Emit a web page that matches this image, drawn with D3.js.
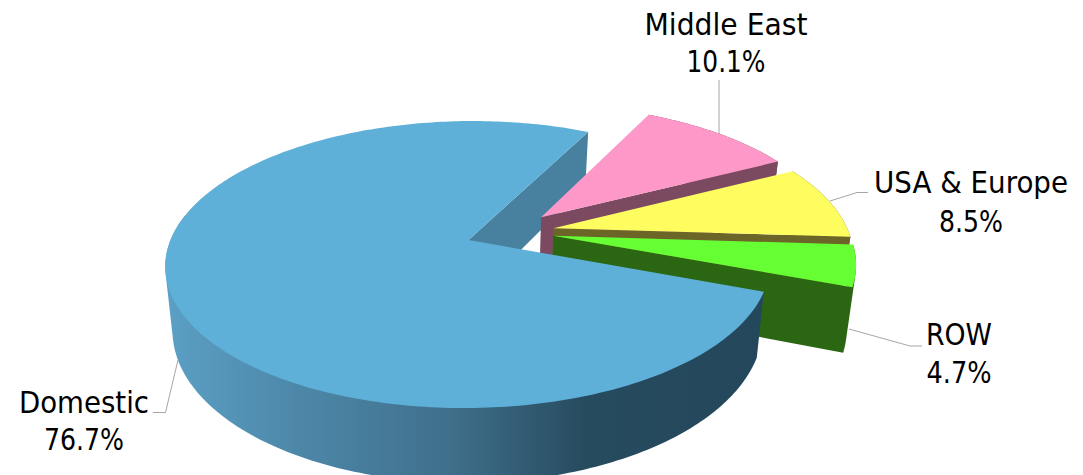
<!DOCTYPE html>
<html>
<head>
<meta charset="utf-8">
<script src="https://cdn.jsdelivr.net/npm/d3@7/dist/d3.min.js"></script>
<style>
  html, body { margin: 0; padding: 0; background: #fff; overflow: hidden; }
  text { font-family: "DejaVu Sans", sans-serif; font-size: 30px; fill: #000; }
  text.share { font-stretch: condensed; }
</style>
</head>
<body>
<svg id="chart" width="1083" height="475"></svg>
<script>
// Market shares, in drawing order round the pie
const regions = ["Middle East", "USA & Europe", "ROW", "Domestic"];
const shares = [10.1, 8.5, 4.7, 76.7];
const shareLabels = ["10.1%", "8.5%", "4.7%", "76.7%"];

const topColors = ["#fd98c9", "#fdfd60", "#66ff33", "#5eb0d8"];
const wallColors = ["#7b4a60", "#6b6528", "#2b6712", "#48809f"];

// Exploded slices are shifted in the plane of the disc (unit radius)
const sliceOffsets = [[0.248, -0.168], [0.288, -0.085], [0.2855, -0.03], [0, 0]];

// x centre, name baseline, share baseline, fitted name and share widths
const labelAnchors = [
  [726, 35, 72, 163, 79],
  [971, 193, 232, 194, 64],
  [959, 345, 383, 66, 65],
  [84, 413, 450, 130, 80]
];
const leaderPaths = [
  [[719, 80], [719, 134]],
  [[830, 201], [857, 192.5], [868, 192.5]],
  [[849, 329], [910, 346], [922, 346]],
  [[178, 360], [165.5, 412.5], [153, 412.5]]
];

// Perspective projection of the tilted disc
const cx = 468.5, cy = 240;
const radiusX = 298, radiusY = 139.3, tilt = 0.171, skew = 4.4;
const depth = 62, bottomShrink = 0.024;

function project(u, v, z) {
  const s = 1 / (1 - tilt * v);
  return [
    cx - skew * v + radiusX * u * s * (1 - z * bottomShrink),
    cy + radiusY * v * s + z * depth * s
  ];
}

const rad = Math.PI / 180;
const pie = d3.pie().sort(null).value(d => d).startAngle(26.6 * rad).endAngle(386.6 * rad);
const slices = pie(shares);
const line = d3.line();

function rimPoint(angle, offset, z) {
  return project(offset[0] + Math.sin(angle), offset[1] - Math.cos(angle), z);
}

function rimAngles(a0, a1) {
  const steps = Math.max(2, Math.ceil((a1 - a0) / rad));
  return d3.range(steps + 1).map(i => a0 + (a1 - a0) * i / steps);
}

function topPath(sl, offset) {
  const pts = [project(offset[0], offset[1], 0)];
  rimAngles(sl.startAngle, sl.endAngle).forEach(a => pts.push(rimPoint(a, offset, 0)));
  return line(pts) + "Z";
}

// The extruded rim is the hull of its upper and lower edges, which keeps the
// tangent silhouette where the two edges cross at the side of the disc
function outerWallPath(a0, a1, offset) {
  const angles = rimAngles(a0, a1);
  const pts = angles.map(a => rimPoint(a, offset, 0))
    .concat(angles.map(a => rimPoint(a, offset, 1)));
  return line(d3.polygonHull(pts)) + "Z";
}

function radialWallPath(angle, offset) {
  return line([
    project(offset[0], offset[1], 0),
    rimPoint(angle, offset, 0),
    rimPoint(angle, offset, 1),
    project(offset[0], offset[1], 1)
  ]) + "Z";
}

const svg = d3.select("#chart");

// Shading across the front wall of the large slice
const xShade = d3.scaleLinear()
  .domain([170, 300, 450, 590, 770])
  .range(["#5b9fc4", "#4d87a8", "#3f6f8b", "#264a5e", "#24475b"]);
const grad = svg.append("defs").append("linearGradient")
  .attr("id", "wallShade")
  .attr("gradientUnits", "userSpaceOnUse")
  .attr("x1", 170).attr("x2", 770).attr("y1", 0).attr("y2", 0);
xShade.domain().forEach(x => {
  grad.append("stop")
    .attr("offset", (x - 170) / 600)
    .attr("stop-color", xShade(x));
});

// Leader lines sit under the slices
svg.append("g").selectAll("path").data(leaderPaths).join("path")
  .attr("d", d => line(d))
  .attr("fill", "none")
  .attr("stroke", "#a6a6a6")
  .attr("stroke-width", 1);

const big = slices[3];

// Cut face of the large slice, seen through the gap
svg.append("path")
  .attr("d", radialWallPath(big.endAngle, sliceOffsets[3]))
  .attr("fill", wallColors[3]);

// Small slices, back to front
[0, 1, 2].forEach(i => {
  const sl = slices[i], off = sliceOffsets[i];
  const g = svg.append("g");
  g.append("path")
    .attr("d", outerWallPath(sl.startAngle, sl.endAngle, off))
    .attr("fill", wallColors[i]);
  g.append("path")
    .attr("d", radialWallPath(sl.endAngle, off))
    .attr("fill", wallColors[i]);
  g.append("path")
    .attr("d", topPath(sl, off))
    .attr("fill", topColors[i]);
});

// Large slice in front of everything; its back rim stays hidden under the top face
svg.append("path")
  .attr("d", outerWallPath(big.startAngle, big.startAngle + 170 * rad, sliceOffsets[3]))
  .attr("fill", "url(#wallShade)");
svg.append("path")
  .attr("d", topPath(big, sliceOffsets[3]))
  .attr("fill", topColors[3]);

// Labels: name above, share below
const labels = svg.append("g").attr("text-anchor", "middle");
regions.forEach((name, i) => {
  const [x, y1, y2, w1, w2] = labelAnchors[i];
  labels.append("text")
    .attr("x", x).attr("y", y1)
    .attr("textLength", w1).attr("lengthAdjust", "spacingAndGlyphs")
    .text(name);
  labels.append("text").attr("class", "share")
    .attr("x", x).attr("y", y2)
    .attr("textLength", w2).attr("lengthAdjust", "spacingAndGlyphs")
    .text(shareLabels[i]);
});
</script>
</body>
</html>
